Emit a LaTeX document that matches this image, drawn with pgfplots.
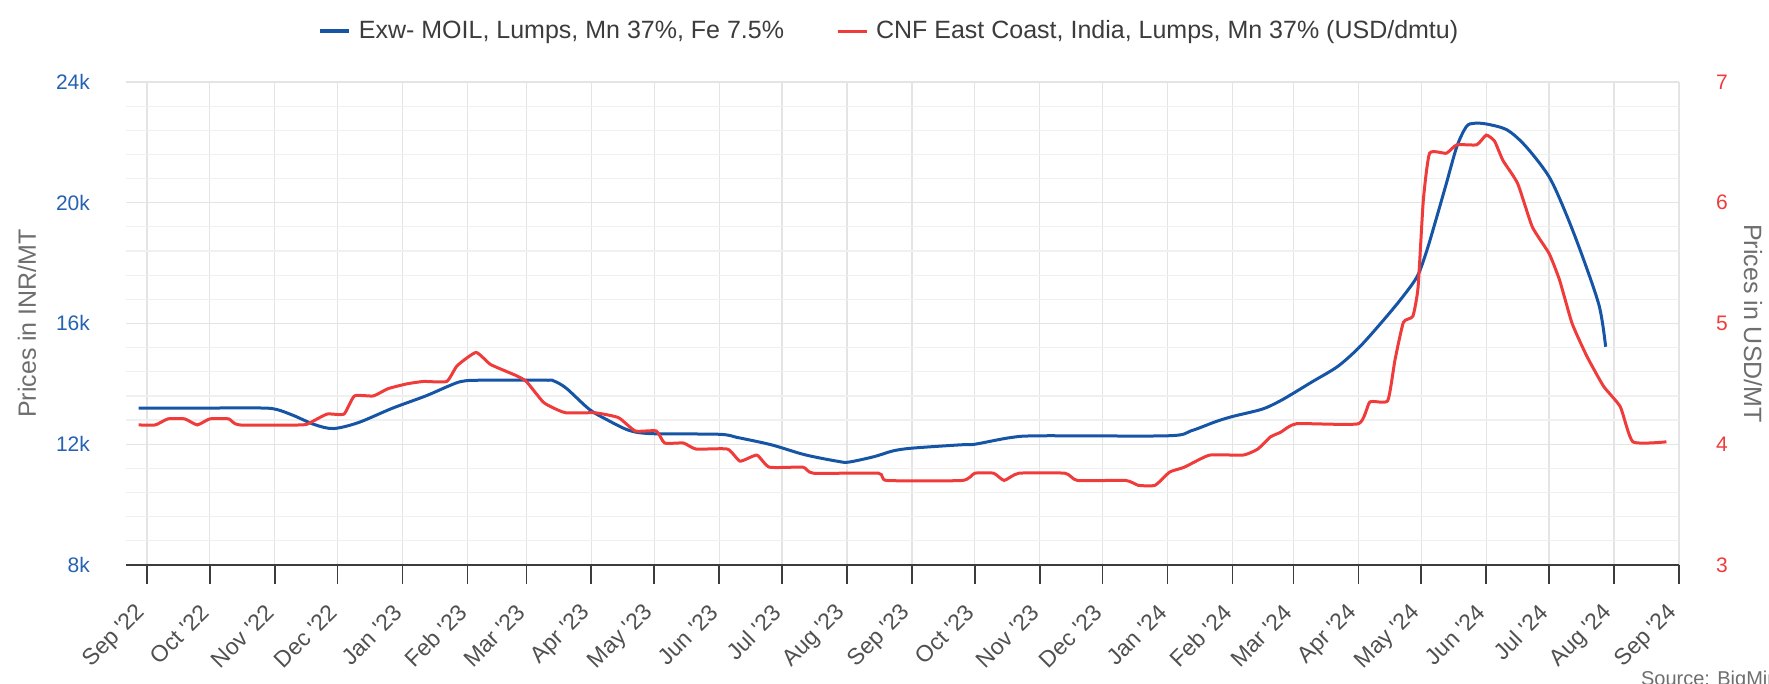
\documentclass[border=0pt]{standalone}
\usepackage{pgfplots}
\pgfplotsset{compat=1.18}
\usepackage{fontspec}
\setmainfont{Liberation Sans}
\definecolor{bl}{RGB}{22,84,166}
\definecolor{rd}{RGB}{240,59,59}
\definecolor{bltxt}{RGB}{38,98,178}
\definecolor{gridc}{RGB}{228,228,228}
\definecolor{gridm}{RGB}{240,240,240}
\definecolor{axc}{RGB}{60,60,60}
\definecolor{ttl}{RGB}{110,110,110}
\definecolor{lbl}{RGB}{80,80,80}
\newcommand{\fs}{\fontsize{10.5}{12}\selectfont}
\newcommand{\fm}{\fontsize{11.5}{13}\selectfont}
\newcommand{\fl}{\fontsize{12.5}{14}\selectfont}
\begin{document}
\begin{tikzpicture}
\path[use as bounding box] (-63pt,-59.5pt) rectangle (821.5pt,282.5pt);
\begin{axis}[
  at={(0,0)}, anchor=south west,
  scale only axis, width=776.5pt, height=241.5pt,
  xmin=-10, xmax=731, ymin=8, ymax=24,
  axis x line*=bottom, axis y line*=left,
  x axis line style={axc, line width=1pt, -},
  y axis line style={draw=none},
  xtick={0,30,61,91,122,153,181,212,242,273,303,334,365,395,426,456,487,518,547,578,608,639,669,700,731},
  xticklabels={Sep \textquotesingle22,Oct \textquotesingle22,Nov \textquotesingle22,Dec \textquotesingle22,Jan \textquotesingle23,Feb \textquotesingle23,Mar \textquotesingle23,Apr \textquotesingle23,May \textquotesingle23,Jun \textquotesingle23,Jul \textquotesingle23,Aug \textquotesingle23,Sep \textquotesingle23,Oct \textquotesingle23,Nov \textquotesingle23,Dec \textquotesingle23,Jan \textquotesingle24,Feb \textquotesingle24,Mar \textquotesingle24,Apr \textquotesingle24,May \textquotesingle24,Jun \textquotesingle24,Jul \textquotesingle24,Aug \textquotesingle24,Sep \textquotesingle24},
  xticklabel style={rotate=45, anchor=east, text=lbl, font=\fm},
  xticklabel shift=10pt,
  tick align=outside, major tick length=9.5pt,
  xtick style={axc, line width=0.8pt},
  ytick={8,12,16,20,24}, yticklabels={8k,12k,16k,20k,24k},
  minor y tick num=4,
  ytick style={draw=none}, minor y tick style={draw=none},
  yticklabel style={text=bltxt, font=\fs, anchor=east, xshift=-5pt},
  xmajorgrids, ymajorgrids, yminorgrids,
  major grid style={gridc, line width=0.6pt},
  minor grid style={gridm, line width=0.6pt},
  ylabel={Prices in INR/MT},
  ylabel style={at={(axis description cs:-0.0637,0.5)}, anchor=center, text=ttl, font=\fl},
  clip=false,
]
\addplot[bl, line width=1.5pt, smooth] coordinates {
(-4,13.2) (0,13.2) (30,13.2) (55,13.2) (62,13.15) (70,12.95) (80,12.65) (89,12.52)
(101,12.72) (117,13.19) (133,13.6) (144,13.93) (150,14.08) (158,14.12) (190,14.12)
(194,14.1) (200,13.86) (211,13.16) (219,12.83) (230,12.46) (241,12.35) (273,12.33)
(282,12.22) (298,11.98) (314,11.65) (330,11.43) (335,11.41) (347,11.59) (356,11.78)
(365,11.87) (388,11.98) (395,12.0) (412,12.22) (426,12.28) (487,12.28) (498,12.44)
(510,12.75) (518,12.92) (532,13.16) (540,13.41) (547,13.69) (556,14.07) (568,14.57)
(578,15.18) (588,15.95) (598,16.78) (606,17.55) (610.5,18.38) (615,19.43) (620,20.64)
(625,21.86) (629.5,22.52) (633,22.63) (639,22.61) (649,22.41) (658,21.86) (669,20.86) (677,19.65)
(685,18.21) (693,16.56) (696,15.23)
};
\end{axis}
\begin{axis}[
  at={(0,0)}, anchor=south west,
  scale only axis, width=776.5pt, height=241.5pt,
  xmin=-10, xmax=731, ymin=3, ymax=7,
  axis y line*=right, axis x line=none,
  y axis line style={draw=none},
  ytick={3,4,5,6,7}, yticklabels={3,4,5,6,7},
  ytick style={draw=none},
  yticklabel style={text=rd, font=\fs, anchor=west, xshift=15pt},
  ylabel={Prices in USD/MT},
  ylabel style={at={(axis description cs:1.0476,0.5)}, anchor=center, rotate=180, text=ttl, font=\fl},
  legend columns=2,
  legend style={at={(0.492,1.105)}, anchor=center, draw=none, fill=none, font=\fl, text=axc,
    /tikz/every even column/.append style={column sep=24pt},
    /tikz/every odd column/.append style={column sep=2pt}},
  legend image code/.code={\draw[#1] (0pt,0pt) -- (14.5pt,0pt);},
  clip=false,
]
\addlegendimage{bl, line width=2pt}
\addlegendentry{Exw- MOIL, Lumps, Mn 37\%, Fe 7.5\%}
\addplot[rd, line width=1.5pt, smooth, tension=0.3] coordinates {
(-4,4.16) (4,4.16) (10,4.21) (18,4.21) (24,4.16) (30,4.21) (39,4.21) (44,4.16) (74,4.16)
(78,4.18) (86,4.25) (94,4.25) (99,4.40) (108,4.40) (115,4.46) (124,4.50) (132,4.52)
(143,4.52) (148,4.65) (157,4.76) (164,4.66) (176,4.57) (181,4.52) (189,4.35) (194,4.30)
(200,4.26) (214,4.26) (225,4.22) (233,4.11) (243,4.11) (247,4.01) (256,4.01) (262,3.96)
(277,3.96) (283,3.86) (291,3.91) (297,3.81) (313,3.81) (318,3.76) (349,3.76) (353,3.70)
(389,3.70) (395,3.76) (404,3.76) (409,3.70) (416,3.76) (438,3.76) (444,3.70) (467,3.70)
(473,3.66) (481,3.66) (488,3.77) (495,3.81) (507,3.91) (523,3.91) (530,3.96) (536,4.06)
(541,4.10) (548.5,4.17) (578,4.17) (583.5,4.35) (592,4.36) (595.5,4.70) (599.5,5.01)
(604,5.06) (606.5,5.30) (609,6.02) (612,6.41) (620,6.41) (625,6.48) (634.5,6.48) (639,6.56)
(643,6.51) (647,6.35) (654,6.16) (661,5.80) (669,5.58) (674,5.36) (680,5.00) (687,4.73)
(695,4.48) (703,4.31) (709,4.02) (725,4.02)
};
\addlegendentry{CNF East Coast, India, Lumps, Mn 37\% (USD/dmtu)}
\end{axis}
\node[anchor=west, text=ttl, font=\fontsize{10}{11}\selectfont] at (754pt,-57.5pt) {Source: BigMint};
\end{tikzpicture}
\end{document}
